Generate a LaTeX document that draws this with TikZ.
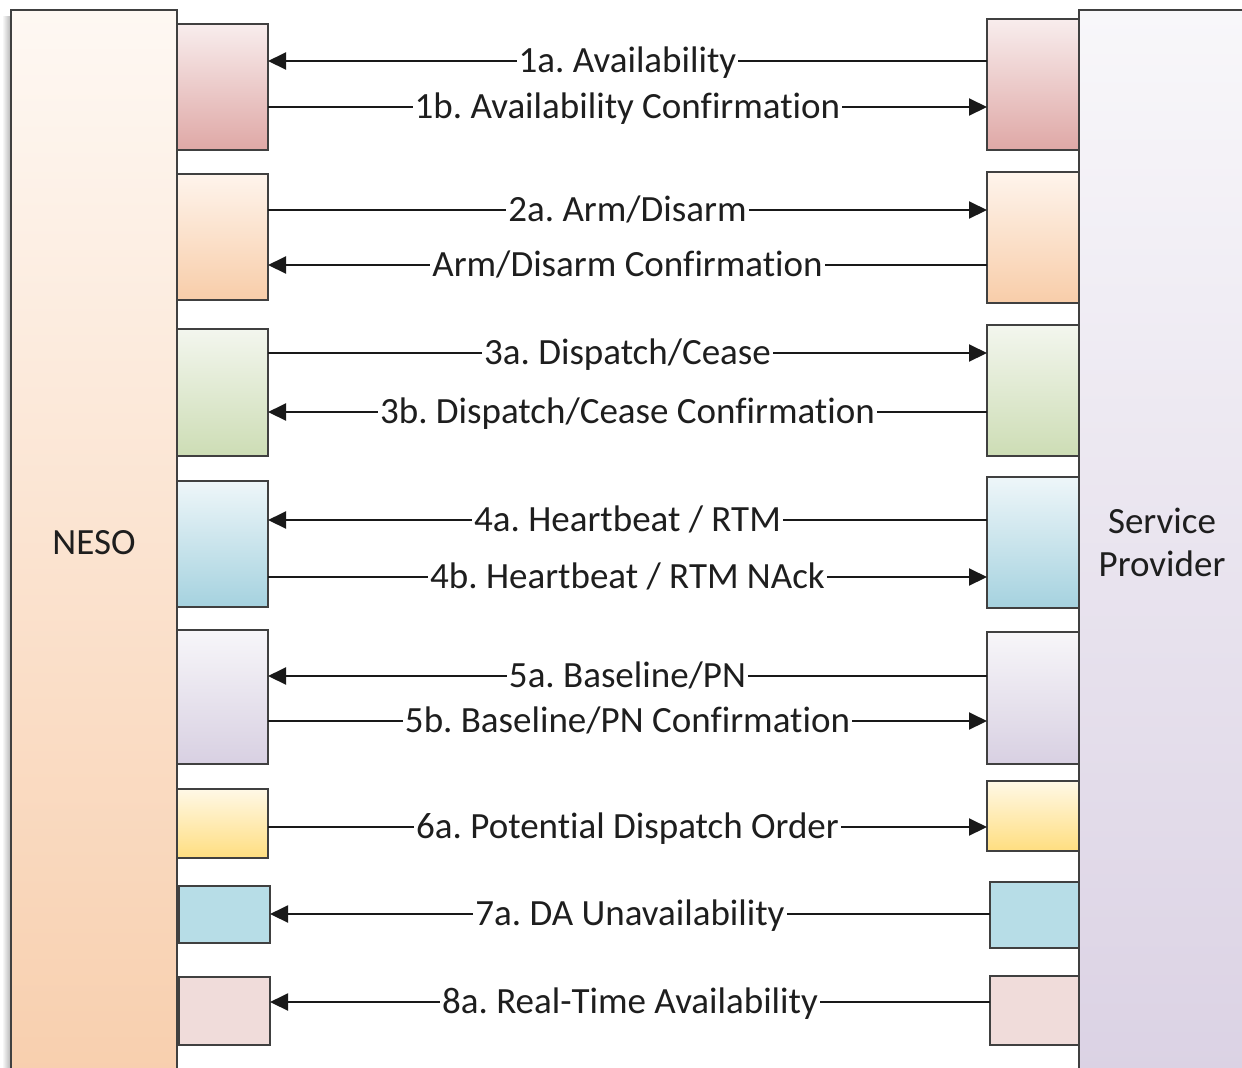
\documentclass[tikz,border=0pt]{standalone}
\usepackage{fontspec}
\setmainfont{Carlito}[Ligatures=NoCommon]
\usepackage{tikz}
\usetikzlibrary{arrows.meta}
\definecolor{edgegray}{HTML}{404040}
\definecolor{inkgray}{HTML}{1E1E1E}
\definecolor{nesoA}{HTML}{FEF8F3}
\definecolor{nesoB}{HTML}{F8CFAE}
\definecolor{spA}{HTML}{F8F7FA}
\definecolor{spB}{HTML}{DBD2E4}
\definecolor{roseA}{HTML}{F8EDED}
\definecolor{roseB}{HTML}{DFA8A6}
\definecolor{peachA}{HTML}{FEF4EC}
\definecolor{peachB}{HTML}{F8CDA9}
\definecolor{greenA}{HTML}{F3F6EE}
\definecolor{greenB}{HTML}{CDDDB5}
\definecolor{blueA}{HTML}{EEF6F9}
\definecolor{blueB}{HTML}{A5D2DF}
\definecolor{lilacA}{HTML}{F7F6F9}
\definecolor{lilacB}{HTML}{D8D0E2}
\definecolor{goldA}{HTML}{FFF8E6}
\definecolor{goldB}{HTML}{FFDE80}
\definecolor{tealbox}{HTML}{B7DDE7}
\definecolor{blushbox}{HTML}{F0DCDA}
\tikzset{>={Triangle[length=9pt,width=8.5pt]}}
\frenchspacing

\begin{document}
\begin{tikzpicture}[x=0.5pt,y=-0.5pt,
  party/.style={draw=edgegray, line width=1.2pt, inner sep=0pt, outer sep=0pt,
    align=center, text=inkgray, font=\fontsize{18.5}{21.5}\selectfont},
  msgbox/.style={draw=edgegray, line width=1.2pt, inner sep=0pt, outer sep=0pt},
  msg/.style={->, line width=1pt, black!90},
  msglabel/.style={fill=white, inner xsep=1pt, inner ysep=0pt, text=inkgray,
    text height=11.8pt, text depth=0pt, font=\fontsize{18.5}{21.5}\selectfont}]
\useasboundingbox (0,0) rectangle (1242,1067);

% ================= Parties =================
% soft shadow left of NESO
\fill[left color=white, right color=black!30] (2,16) rectangle (11,1075);
\node[party, top color=nesoA, bottom color=nesoB,
  minimum width=166*0.5pt, minimum height=1065*0.5pt] (neso) at (94,542.5) {NESO};
\node[party, top color=spA, bottom color=spB,
  minimum width=166*0.5pt, minimum height=1065*0.5pt] (sp) at (1162,542.5) {Service\\Provider};

% NESO side boxes
\foreach \i/\xa/\xb/\ya/\yb/\ca/\cb in {
  1/177/268/24/150/roseA/roseB, 2/177/268/174/300/peachA/peachB,
  3/177/268/329/456/greenA/greenB, 4/177/268/481/607/blueA/blueB,
  5/177/268/630/764/lilacA/lilacB, 6/177/268/789/858/goldA/goldB,
  7/179/270/886/943/tealbox/tealbox, 8/179/270/977/1045/blushbox/blushbox}{
  \node[msgbox, top color=\ca, bottom color=\cb,
    minimum width={(\xb-\xa)*0.5pt}, minimum height={(\yb-\ya)*0.5pt}]
    (L\i) at ({(\xa+\xb)/2},{(\ya+\yb)/2}) {};
}

% Service provider side boxes
\foreach \i/\xa/\xb/\ya/\yb/\ca/\cb in {
  1/987/1079/19/150/roseA/roseB, 2/987/1079/172/303/peachA/peachB,
  3/987/1079/325/456/greenA/greenB, 4/987/1079/477/608/blueA/blueB,
  5/987/1079/632/764/lilacA/lilacB, 6/987/1079/781/851/goldA/goldB,
  7/990/1079/882/948/tealbox/tealbox, 8/990/1079/976/1045/blushbox/blushbox}{
  \node[msgbox, top color=\ca, bottom color=\cb,
    minimum width={(\xb-\xa)*0.5pt}, minimum height={(\yb-\ya)*0.5pt}]
    (R\i) at ({(\xa+\xb)/2},{(\ya+\yb)/2}) {};
}

% ================= Messages =================
\draw[msg] (R1.west |- 0,61) -- node[msglabel] {1a. Availability} (L1.east |- 0,61);
\draw[msg] (L1.east |- 0,107) -- node[msglabel] {1b. Availability Confirmation} (R1.west |- 0,107);

\draw[msg] (L2.east |- 0,210) -- node[msglabel] {2a. Arm/Disarm} (R2.west |- 0,210);
\draw[msg] (R2.west |- 0,265) -- node[msglabel] {Arm/Disarm Confirmation} (L2.east |- 0,265);

\draw[msg] (L3.east |- 0,353) -- node[msglabel] {3a. Dispatch/Cease} (R3.west |- 0,353);
\draw[msg] (R3.west |- 0,412) -- node[msglabel] {3b. Dispatch/Cease Confirmation} (L3.east |- 0,412);

\draw[msg] (R4.west |- 0,520) -- node[msglabel] {4a. Heartbeat / RTM} (L4.east |- 0,520);
\draw[msg] (L4.east |- 0,577) -- node[msglabel] {4b. Heartbeat / RTM NAck} (R4.west |- 0,577);

\draw[msg] (R5.west |- 0,676) -- node[msglabel] {5a. Baseline/PN} (L5.east |- 0,676);
\draw[msg] (L5.east |- 0,721) -- node[msglabel] {5b. Baseline/PN Confirmation} (R5.west |- 0,721);

\draw[msg] (L6.east |- 0,827) -- node[msglabel] {6a. Potential Dispatch Order} (R6.west |- 0,827);

\draw[msg] (R7.west |- 0,914) -- node[msglabel] {7a. DA Unavailability} (L7.east |- 0,914);

\draw[msg] (R8.west |- 0,1002) -- node[msglabel] {8a. Real-Time Availability} (L8.east |- 0,1002);
\end{tikzpicture}
\end{document}
